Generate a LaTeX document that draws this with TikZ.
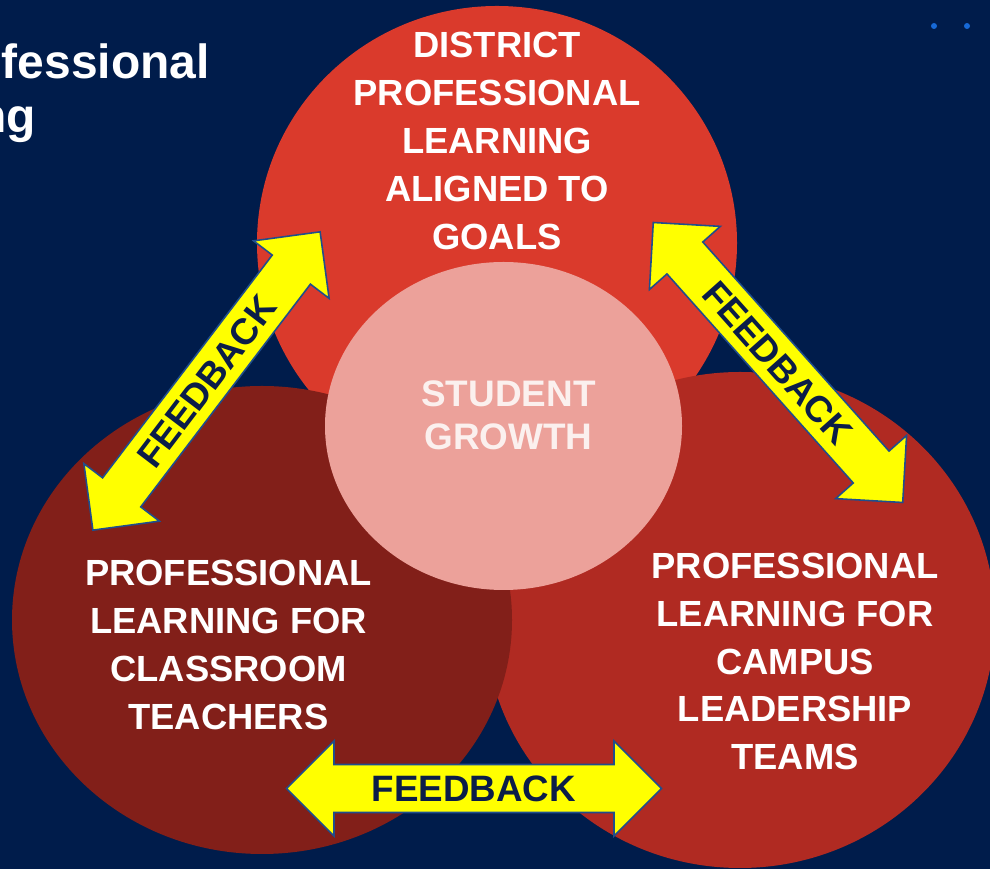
\documentclass[tikz,border=0pt]{standalone}
\usepackage{fontspec}
\setmainfont{Liberation Sans}
\usetikzlibrary{shapes.geometric, shapes.arrows}
\usepackage{xcolor}
\definecolor{slidenavy}{HTML}{001C4B}
\definecolor{districtred}{HTML}{DA3A2C}
\definecolor{classroomred}{HTML}{821F19}
\definecolor{campusred}{HTML}{B02A22}
\definecolor{growthpink}{HTML}{ECA19A}
\definecolor{growthtext}{HTML}{FBF0EE}
\definecolor{fbyellow}{HTML}{FFFF00}
\definecolor{fbedge}{HTML}{1F4E8C}
\definecolor{fbtext}{HTML}{0B1D48}
\definecolor{dotblue}{HTML}{1769D6}
\tikzset{
  blob/.style={ellipse, draw=none, inner sep=0pt, fill=#1},
  blobtext/.style={text=white, align=center, inner sep=0pt,
                   font=\fontsize{20.7}{27.3}\selectfont\bfseries},
  fbarrow/.style={double arrow, draw=fbedge, line width=0.9pt, fill=fbyellow,
                  minimum height=7.5cm, double arrow head extend=0.47cm,
                  inner xsep=0pt, inner ysep=5.7pt, text height=15pt, text depth=0pt,
                  font=\fontsize{20.9}{25}\selectfont\bfseries, text=fbtext},
  titletext/.style={text=white, inner sep=0pt, font=\fontsize{27.3}{33}\selectfont\bfseries},
}

\begin{document}
\begin{tikzpicture}

  % --- slide background ---
  \fill[slidenavy] (0,0) rectangle (19.8,17.38);
  \clip (0,0) rectangle (19.8,17.38);

  % --- slide title, running off the left edge ---
  \node[titletext, anchor=base east] (title1) at (4.2,15.81) {fessional};
  \node[titletext, anchor=base east] (title2) at (0.72,14.72) {ng};

  % --- template dots top right ---
  \fill[dotblue] (18.68,16.86) circle (0.06);
  \fill[dotblue] (19.34,16.86) circle (0.06);

  % --- the three circles ---
  \node[blob=districtred, minimum width=9.6cm, minimum height=9.48cm] (district) at (9.94,12.52) {};
  \node[blob=campusred, minimum width=10.2cm, minimum height=9.92cm] (campus) at (14.8,4.98) {};
  \node[blob=classroomred, minimum width=10cm, minimum height=9.36cm] (classroom) at (5.24,4.98) {};
  \node[blob=growthpink, minimum width=7.14cm, minimum height=6.56cm] (growth) at (10.07,8.86) {};

  % Labels
  \node[blobtext] (districtlbl) at (9.94,14.56)
       {DISTRICT\\PROFESSIONAL\\LEARNING\\ALIGNED TO\\GOALS};
  \node[blobtext] (classroomlbl) at (4.57,4.48)
       {PROFESSIONAL\\LEARNING FOR\\CLASSROOM\\TEACHERS};
  \node[blobtext] (campuslbl) at (15.9,4.15)
       {PROFESSIONAL\\LEARNING FOR\\CAMPUS\\LEADERSHIP\\TEAMS};
  \node[blobtext, text=growthtext, font=\fontsize{21}{24.5}\selectfont\bfseries] (growthlbl)
       at (10.17,9.07) {STUDENT\\GROWTH};

  % --- feedback arrows ---
  \node[fbarrow, rotate=52.7] (fbleft) at (4.13,9.76) {FEEDBACK};
  \node[fbarrow, rotate=-48.3] (fbright) at (15.56,10.13) {FEEDBACK};
  \node[fbarrow] (fbbottom) at (9.48,1.61) {FEEDBACK};

\end{tikzpicture}
\end{document}
